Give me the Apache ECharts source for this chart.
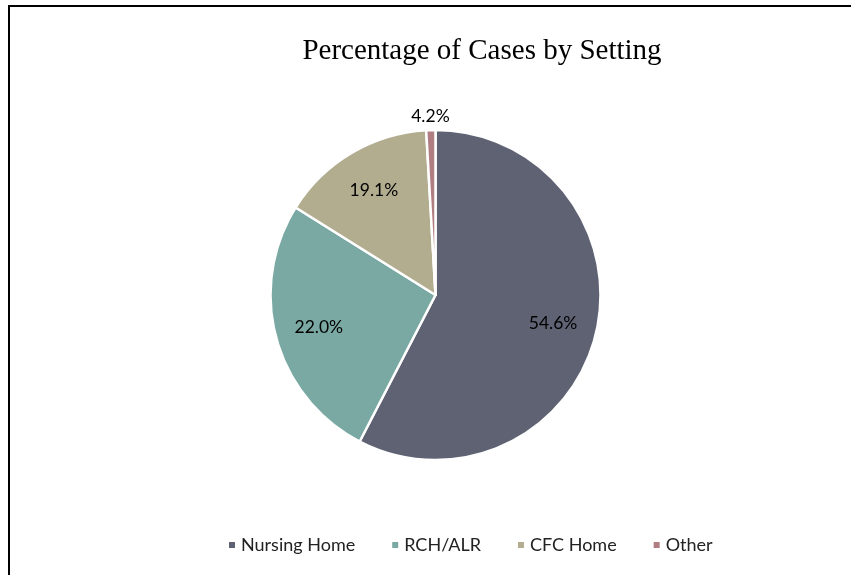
<!DOCTYPE html>
<html>
<head>
<meta charset="utf-8">
<script src="https://cdn.jsdelivr.net/npm/echarts@6/dist/echarts.min.js"></script>
<style>
  html, body { margin: 0; padding: 0; background: #fff; }
  #chart { width: 851px; height: 575px; }
</style>
</head>
<body>
<div id="chart"></div>
<script>
// Data
const categories = ['Nursing Home', 'RCH/ALR', 'CFC Home', 'Other'];
// slice sizes as drawn (percent of circle)
const sliceValues = [57.6, 26.3, 15.2, 0.9];
// data labels as printed on the chart
const labelTexts = ['54.6%', '22.0%', '19.1%', '4.2%'];
const colors = ['#5E6273', '#7AA9A3', '#B2AD8F', '#B07E82'];

const chart = echarts.init(document.getElementById('chart'), null, { renderer: 'canvas' });

const mainData = categories.map((c, i) => ({
  name: c, value: sliceValues[i], itemStyle: { color: colors[i] }
}));

const innerLabelData = categories.map((c, i) => ({
  name: c, value: sliceValues[i],
  label: { show: i < 3, formatter: labelTexts[i] }
}));
const outerLabelData = categories.map((c, i) => ({
  name: c, value: sliceValues[i],
  label: { show: i === 3, formatter: labelTexts[i] }
}));

const labelFont = { fontFamily: 'Lato', fontSize: 17.5, color: '#000' };

chart.setOption({
  animation: false,
  backgroundColor: '#fff',
  title: {
    text: 'Percentage of Cases by Setting',
    left: 477, top: 32, textAlign: 'center',
    textStyle: { fontFamily: 'Liberation Serif', fontSize: 29, fontWeight: 'normal', color: '#000' }
  },
  legend: {
    data: categories,
    left: 222, top: 531,
    icon: 'rect', itemWidth: 8, itemHeight: 8, itemGap: 35,
    textStyle: { fontFamily: 'Lato', fontSize: 18, color: '#222' }
  },
  graphic: [{
    type: 'rect', silent: true,
    shape: { x: 9, y: 6, width: 1000, height: 1000 },
    style: { fill: 'none', stroke: '#000', lineWidth: 2 }
  }],
  series: [
    {
      type: 'pie', name: 'slices',
      center: [435.5, 295], radius: [0, 165],
      startAngle: 90, clockwise: true,
      itemStyle: { borderColor: '#fff', borderWidth: 2.5 },
      label: { show: false }, labelLine: { show: false },
      emphasis: { disabled: true },
      data: mainData
    },
    {
      type: 'pie', name: 'innerLabels', silent: true,
      center: [435.5, 295], radius: [0, 236],
      startAngle: 90, clockwise: true,
      itemStyle: { color: 'rgba(0,0,0,0)', borderWidth: 0 },
      label: Object.assign({ position: 'inside' }, labelFont),
      labelLine: { show: false },
      emphasis: { disabled: true },
      data: innerLabelData
    },
    {
      type: 'pie', name: 'outerLabels', silent: true,
      center: [435.5, 295], radius: [166, 186],
      startAngle: 90, clockwise: true,
      itemStyle: { color: 'rgba(0,0,0,0)', borderWidth: 0 },
      label: Object.assign({ position: 'inside' }, labelFont),
      labelLine: { show: false },
      emphasis: { disabled: true },
      data: outerLabelData
    }
  ]
});
</script>
</body>
</html>
